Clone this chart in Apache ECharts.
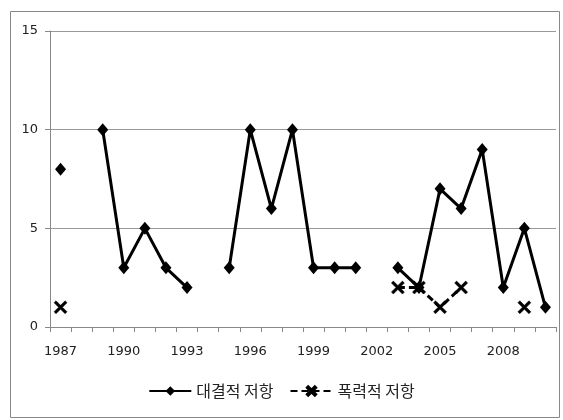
<!DOCTYPE html>
<html>
<head>
<meta charset="utf-8">
<script src="https://cdn.jsdelivr.net/npm/echarts@6/dist/echarts.min.js"></script>
<style>
html,body{margin:0;padding:0;background:#fff;}
#main{width:563px;height:420px;}
</style>
</head>
<body>
<div id="main"></div>
<script>
// 연도
var years = ['1987','1988','1989','1990','1991','1992','1993','1994','1995','1996','1997','1998',
             '1999','2000','2001','2002','2003','2004','2005','2006','2007','2008','2009','2010'];
// 대결적 저항
var confront = [8,null,10,3,5,3,2,null,3,10,6,10,3,3,3,null,3,2,7,6,9,2,5,1];
// 폭력적 저항
var violent = [1,null,null,null,null,null,null,null,null,null,null,null,
               null,null,null,null,2,2,1,2,null,null,1,null];
var yTicks = [0,5,10,15];

// 굵은 X 마커
var xMark = 'path://M0,1.5 L1.5,0 L5,3.5 L8.5,0 L10,1.5 L6.5,5 L10,8.5 L8.5,10 L5,6.5 L1.5,10 L0,8.5 L3.5,5 Z';

var myChart = echarts.init(document.getElementById('main'));
var option = {
    animation:false,
    textStyle:{fontFamily:'"DejaVu Sans","Noto Sans CJK KR",sans-serif'},
    graphic:[{
        type:'rect',
        shape:{x:10.5,y:11.5,width:549,height:406},
        style:{fill:'none',stroke:'#888',lineWidth:1}
    }],
    grid:{left:50,right:7,top:31,bottom:93,containLabel:false},
    legend:{
        top:378,
        left:'center',
        itemWidth:42,
        itemHeight:12,
        itemGap:16,
        textStyle:{fontSize:16,color:'#222',fontFamily:'"Noto Sans CJK KR",sans-serif'},
        data:['대결적 저항','폭력적 저항']
    },
    xAxis:{
        type:'category',
        data:years,
        boundaryGap:true,
        axisLine:{lineStyle:{color:'#888'}},
        axisTick:{show:true,interval:0,length:5,lineStyle:{color:'#888'}},
        axisLabel:{interval:2,color:'#222',fontSize:13,margin:18},
        splitLine:{show:false}
    },
    yAxis:{
        type:'value',
        min:yTicks[0],
        max:yTicks[yTicks.length-1],
        interval:5,
        axisLine:{show:true,lineStyle:{color:'#888'}},
        axisTick:{show:true,length:5,lineStyle:{color:'#888'}},
        axisLabel:{color:'#222',fontSize:13,margin:12},
        splitLine:{lineStyle:{color:'#999'}}
    },
    series:[
        {
            name:'대결적 저항',
            type:'line',
            data:confront,
            connectNulls:false,
            symbol:'diamond',
            symbolSize:[11,13],
            showAllSymbol:true,
            lineStyle:{color:'#000',width:3},
            itemStyle:{color:'#000'}
        },
        {
            name:'폭력적 저항',
            type:'line',
            data:violent,
            connectNulls:false,
            symbol:xMark,
            symbolSize:13,
            showAllSymbol:true,
            lineStyle:{color:'#000',width:3,type:[7,4]},
            itemStyle:{color:'#000',borderColor:'#000',borderWidth:0.5}
        }
    ]
};
myChart.setOption(option);
</script>
</body>
</html>
